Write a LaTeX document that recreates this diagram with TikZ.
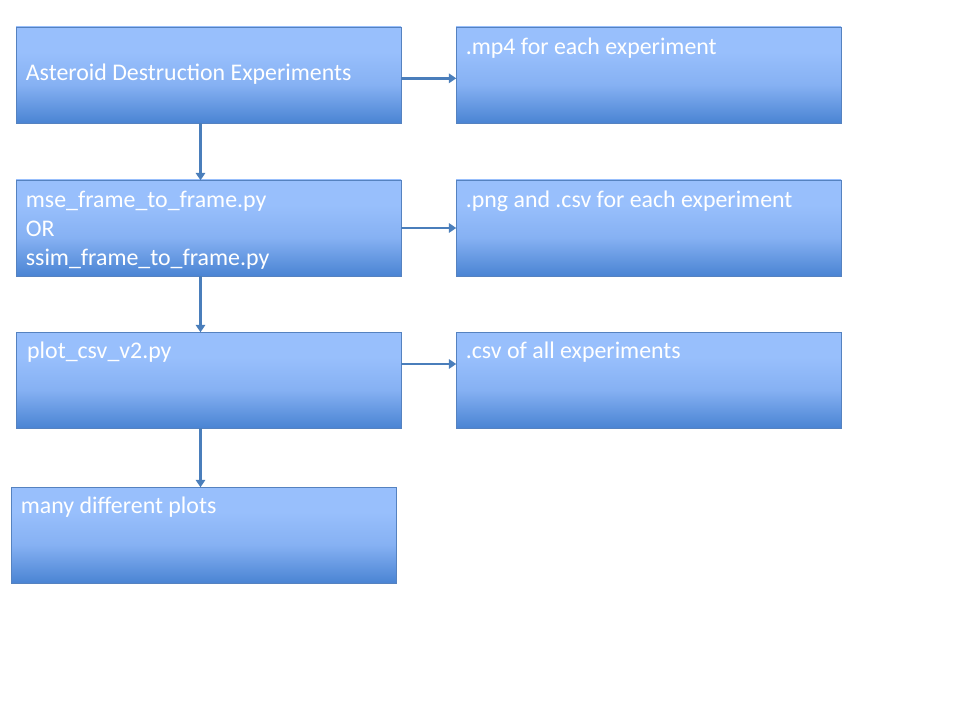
\documentclass[tikz,border=0pt]{standalone}
\usepackage{fontspec}
\setmainfont{Carlito}
\usetikzlibrary{arrows.meta}

\definecolor{boxlight}{HTML}{98BFFC}
\definecolor{boxmid}{HTML}{86B1F3}
\definecolor{boxdark}{HTML}{4A84D3}
\definecolor{boxline}{HTML}{5582C0}
\definecolor{arrowblue}{HTML}{4A7EBB}

\pgfdeclareverticalshading{boxfill}{100bp}{color(0bp)=(boxdark); color(25bp)=(boxdark); color(45bp)=(boxmid); color(62bp)=(boxlight); color(75bp)=(boxlight); color(100bp)=(boxlight)}

\tikzset{
	flowbox/.style={rectangle, draw=boxline, line width=0.6pt, shading=boxfill,
		minimum width=288.75pt, minimum height=72pt, inner sep=0pt},
	boxtext/.style={text=white, inner sep=0pt, align=left,
		font=\fontsize{17.9}{21.75}\selectfont},
	flowarrow/.style={draw=arrowblue, line width=1.8pt,
		-{Triangle[length=5.5pt,width=7pt]}, shorten >=-0.5pt}
}

\begin{document}
\begin{tikzpicture}[x=0.75pt, y=-0.75pt]
	\useasboundingbox (0,0) rectangle (960,720);
	
	%boxes
	\node[flowbox] (exp) at (208.5,75) {};
	\node[flowbox] (mp4) at (648.5,75) {};
	\node[flowbox] (frames) at (208.5,228) {};
	\node[flowbox] (pngcsv) at (648.5,228) {};
	\node[flowbox] (plotcsv) at (208.5,380) {};
	\node[flowbox] (allcsv) at (648.5,380) {};
	\node[flowbox] (plots) at (203.5,535) {};
	
	%labels
	\node[boxtext, anchor=west] (exptext) at ([xshift=7.5pt,yshift=0.5pt]exp.west) {\strut Asteroid Destruction Experiments};
	\node[boxtext, anchor=north west] (mp4text) at ([xshift=7.5pt,yshift=-5.5pt]mp4.north west) {\strut .mp4 for each experiment};
	\node[boxtext, anchor=north west] (framestext) at ([xshift=7.5pt,yshift=-5.5pt]frames.north west) {\strut mse\_frame\_to\_frame.py\\ OR\\ ssim\_frame\_to\_frame.py};
	\node[boxtext, anchor=north west] (pngcsvtext) at ([xshift=7.5pt,yshift=-5.5pt]pngcsv.north west) {\strut .png and .csv for each experiment};
	\node[boxtext, anchor=north west] (plotcsvtext) at ([xshift=8.5pt,yshift=-5pt]plotcsv.north west) {\strut plot\_csv\_v2.py};
	\node[boxtext, anchor=north west] (allcsvtext) at ([xshift=7.5pt,yshift=-5pt]allcsv.north west) {\strut .csv of all experiments};
	\node[boxtext, anchor=north west] (plotstext) at ([xshift=7.5pt,yshift=-5pt]plots.north west) {\strut many different plots};
	
	%arrows to the right
	\draw[flowarrow] ([yshift=-2.5pt]exp.east) -- ([yshift=-2.5pt]mp4.west);
	\draw[flowarrow] (frames.east) -- (pngcsv.west);
	\draw[flowarrow] ([yshift=12pt]plotcsv.east) -- ([yshift=12pt]allcsv.west);
	
	%arrows down
	\draw[flowarrow] ([xshift=-6pt]exp.south) -- ([xshift=-6pt]frames.north);
	\draw[flowarrow] ([xshift=-6pt]frames.south) -- ([xshift=-6pt]plotcsv.north);
	\draw[flowarrow] ([xshift=-6pt]plotcsv.south) -- ([xshift=-2.25pt]plots.north);
\end{tikzpicture}
\end{document}
